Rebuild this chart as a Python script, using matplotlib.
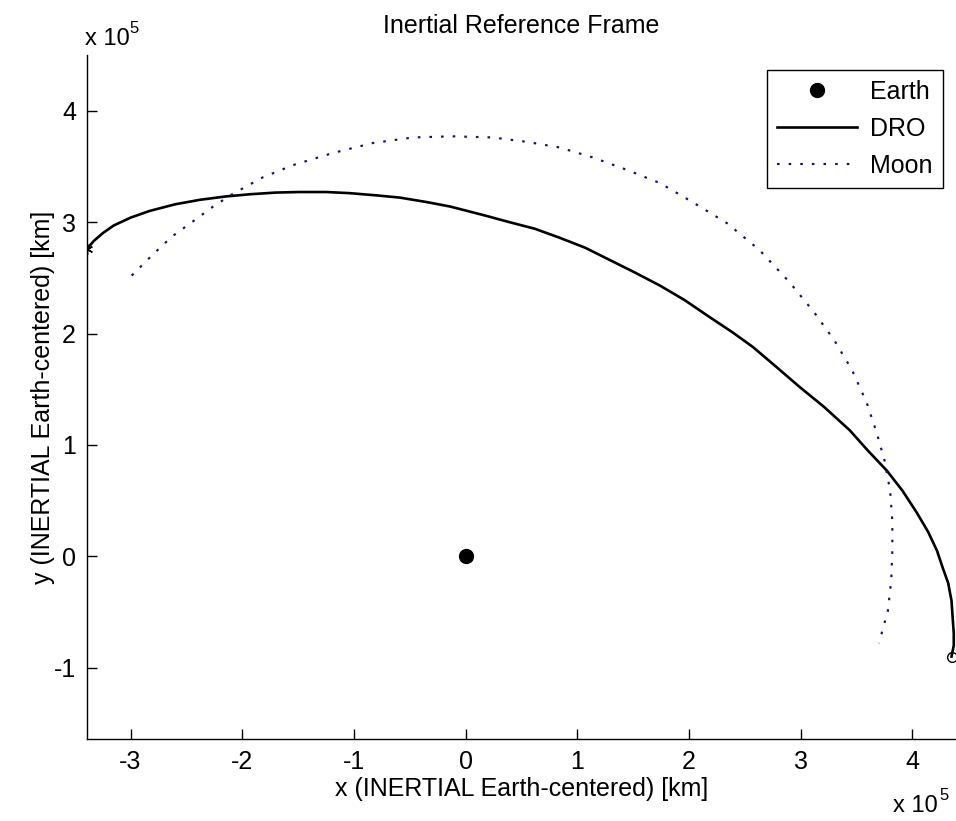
import matplotlib
matplotlib.use('Agg')
import matplotlib.pyplot as plt
from matplotlib.lines import Line2D

plt.rcParams['font.family'] = ['Liberation Sans', 'DejaVu Sans']
plt.rcParams['axes.unicode_minus'] = False

# positions in units of 1e5 km
dro_x = [-3.39, -3.33, -3.25, -3.15, -3.00, -2.83, -2.60, -2.38, -2.15, -1.93,
         -1.70, -1.49, -1.25, -1.04, -0.80, -0.59, -0.35, -0.14, 0.17, 0.39,
         0.62, 0.84, 1.07, 1.29, 1.51, 1.74, 1.96, 2.18, 2.39, 2.57,
         2.77, 2.99, 3.21, 3.44, 3.60, 3.77, 3.91, 4.04, 4.14, 4.22,
         4.27, 4.32, 4.35, 4.36, 4.37, 4.37, 4.35]
dro_y = [2.76, 2.83, 2.90, 2.97, 3.04, 3.10, 3.16, 3.20, 3.23, 3.25,
         3.265, 3.27, 3.27, 3.26, 3.24, 3.22, 3.18, 3.14, 3.06, 3.00,
         2.94, 2.86, 2.77, 2.66, 2.55, 2.43, 2.30, 2.15, 2.01, 1.88,
         1.71, 1.52, 1.34, 1.13, 0.95, 0.77, 0.59, 0.39, 0.22, 0.05,
         -0.10, -0.24, -0.40, -0.55, -0.69, -0.80, -0.90]

moon_x = [-2.99, -2.81, -2.63, -2.45, -2.26, -2.09, -1.82, -1.55, -1.19, -0.83,
          -0.47, -0.12, 0.24, 0.55, 0.84, 1.14, 1.44, 1.74, 2.03, 2.34,
          2.63, 2.90, 3.12, 3.30, 3.46, 3.59, 3.68, 3.75, 3.80, 3.82,
          3.82, 3.81, 3.78, 3.70]
moon_y = [2.52, 2.70, 2.87, 3.00, 3.14, 3.25, 3.40, 3.51, 3.62, 3.71,
          3.76, 3.77, 3.76, 3.72, 3.67, 3.58, 3.47, 3.35, 3.18, 2.99,
          2.75, 2.46, 2.19, 1.94, 1.67, 1.38, 1.11, 0.86, 0.59, 0.32,
          0.05, -0.22, -0.49, -0.78]

earth_x = [0.0]
earth_y = [0.0]

x_ticks = [-3, -2, -1, 0, 1, 2, 3, 4]
y_ticks = [-1, 0, 1, 2, 3, 4]

W, H = 956, 821
fig = plt.figure(figsize=(W / 100, H / 100), dpi=100)
ax = fig.add_axes([87 / W, 82 / H, 869 / W, 684 / H])

moon_col = '#12126a'
moon_ls = (0, (1.2, 4.2))
ax.plot(earth_x, earth_y, 'o', color='black', markersize=10, label='Earth')
ax.plot(dro_x, dro_y, '-', color='black', lw=1.9, label='DRO')
ax.plot(moon_x, moon_y, color=moon_col, lw=1.55, linestyle=moon_ls, label='Moon')
ax.plot(dro_x[0], dro_y[0], marker=(6, 2, 0), color='black', markersize=8, mew=1)
ax.plot(dro_x[-1], dro_y[-1], 'o', mfc='none', mec='black', markersize=7, mew=1)

ax.set_xlim(-3.39, 4.39)
ax.set_ylim(-1.64, 4.50)
ax.set_xticks(x_ticks)
ax.set_yticks(y_ticks)
ax.tick_params(direction='in', length=7, width=1, labelsize=18, pad=8)
for s in ['top', 'right']:
    ax.spines[s].set_visible(False)
for s in ['left', 'bottom']:
    ax.spines[s].set_linewidth(1)

ax.set_title('Inertial Reference Frame', fontsize=18, pad=16)
ax.set_xlabel('x (INERTIAL Earth-centered) [km]', fontsize=18, labelpad=2)
ax.set_ylabel('y (INERTIAL Earth-centered) [km]', fontsize=18, labelpad=-1)

# exponent labels like MATLAB
fig.text(85 / W, 1 - 45 / H, 'x 10', fontsize=17, va='baseline')
fig.text(129 / W, 1 - 33 / H, '5', fontsize=12, va='baseline')
fig.text(893 / W, 1 - 812 / H, 'x 10', fontsize=17, va='baseline')
fig.text(939 / W, 1 - 800 / H, '5', fontsize=12, va='baseline')

handles = [
    Line2D([], [], marker='o', color='black', linestyle='none', markersize=10),
    Line2D([], [], color='black', lw=1.9),
    Line2D([], [], color=moon_col, lw=1.55, linestyle=moon_ls),
]
leg = ax.legend(handles, ['Earth', 'DRO', 'Moon'], loc='upper right',
                bbox_to_anchor=((943 - 87) / 869, (739 - 70) / 684),
                borderaxespad=0, fontsize=18, handlelength=3.2,
                handletextpad=0.55, labelspacing=0.52, fancybox=False,
                edgecolor='black', framealpha=1, borderpad=0.4)
leg.get_frame().set_linewidth(1)

fig.savefig('out.png', dpi=100)
